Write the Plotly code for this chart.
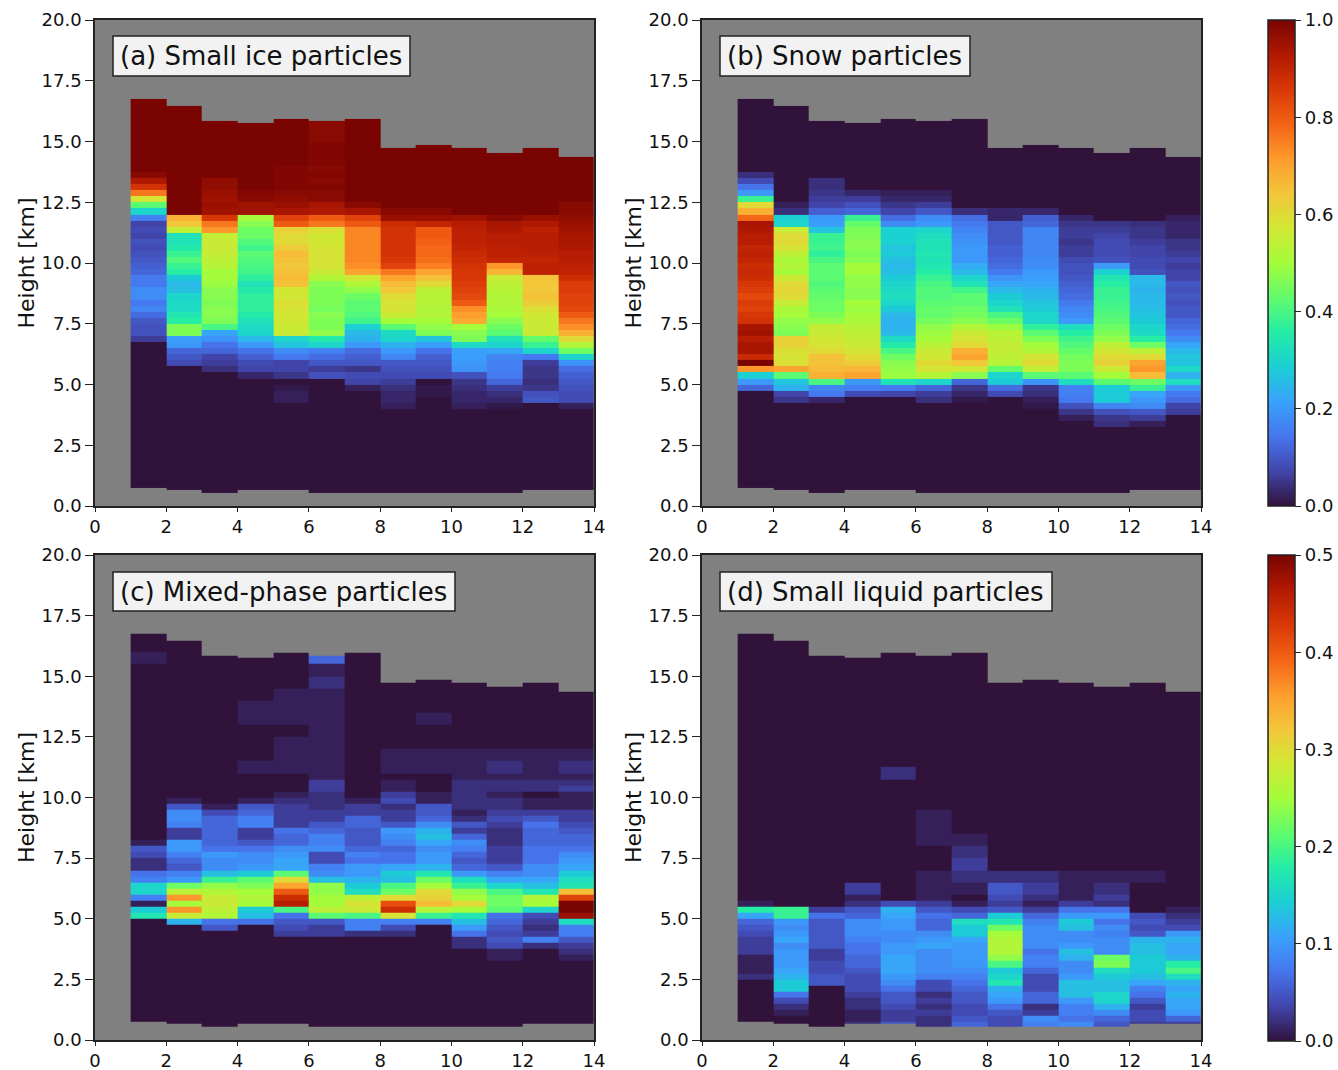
import bisect
import plotly.graph_objects as go

TIME_EDGES = [1,2,3,4,5,6,7,8,9,10,11,12,13,14]
COLUMN_TOPS = [16.75,16.45,15.85,15.75,15.95,15.85,15.95,14.75,14.85,14.75,14.55,14.75,14.35]
COLUMN_BOTTOMS = [0.76,0.66,0.55,0.66,0.66,0.55,0.55,0.55,0.55,0.55,0.55,0.66,0.66]

# Row edges (km) for each panel
LEVELS_A = [0.5]+[4+0.25*i for i in range(41)]+[15,17]
LEVELS_B = [0.5]+[3.25+0.25*i for i in range(44)]+[17]
LEVELS_C = [0.5]+[3.25+0.25*i for i in range(32)]+[11.5,12,12.5,13,13.5,14,14.5,15,15.5,16,17]
LEVELS_D = [0.5+0.25*i for i in range(23)]+[6.5,7,7.5,8,8.5,9.5,10.75,11.25,17]

# Values in hundredths; each list runs from the lowest row upward
A01=[0]+[0]*11+[6,9,9,10,13,17,15,18,18,15,15,12,11,10,9,8,9,7,8,7,16,30,42,58,76,87,93,98,100]+[100,100]
A02=[0]+[0]*7+[8,10,12,20,21,46,46,36,34,31,31,30,26,25,28,36,38,41,38,35,33,33,55,64,68]+[100]*8+[100,100]
A03=[0]+[0]*6+[4,6,7,12,14,19,22,40,46,47,47,46,47,47,49,50,50,53,54,55,56,56,55,72,76,86,95,96,95,96,97,97,100,100]+[100,100]
A04=[0]+[0]*5+[3,7,8,11,14,20,25,30,31,33,35,37,37,37,35,33,37,39,40,41,42,39,41,44,44,47,50,95,95,98,99,100,100,100,100]+[100,100]
A05=[0]+[0,2,2,1,0,5,7,7,15,18,27,30,56,56,57,57,58,59,57,57,65,66,65,64,65,66,63,60,60,62,80,84,94,96,97,98,99,99,99,99]+[100,100]
A06=[0]+[0]*5+[9,6,10,13,16,30,35,48,46,46,47,45,46,46,46,47,52,56,58,58,58,58,57,57,59,76,80,93,94,98,98,99,98,99,98]+[99,98]
A07=[0]+[0]*3+[2,7,8,5,10,11,13,20,24,25,29,39,41,42,42,44,48,52,57,70,73,74,74,74,74,74,74,80,84,94,98]+[100]*6+[100,100]
A08=[0]+[2,3,3,4,6,8,9,10,17,20,24,30,31,42,50,56,58,58,60,64,66,70,76,84,86,87,87,87,87,87,88,96,98]+[100]*7+[100,100]
A09=[0]+[0,0,1,1,0,8,9,10,11,14,21,27,46,48,50,52,52,53,53,54,60,65,70,75,77,78,78,79,80,80,90,96,98]+[100]*7+[100,100]
A10=[0]+[2,3,3,4,5,9,19,20,21,21,31,46,47,50,69,71,73,80,83,84,85,86,86,87,88,89,90,91,91,91,92,95]+[100]*8+[100,100]
A11=[0]+[1,3,4,6,12,15,16,16,17,22,30,33,42,44,47,50,51,52,52,53,54,56,67,72,90,91,91,92,92,93,94,98]+[100]*8+[100,100]
A12=[0]+[0,10,9,5,4,5,5,6,15,30,38,43,56,56,56,57,59,63,65,64,64,65,91,91,90,91,92,92,92,91,93,96]+[100]*8+[100,100]
A13=[0]+[2,8,8,9,10,11,13,19,30,44,52,60,68,73,76,80,83,84,84,85,85,88,90,91,92,92,93,94,94,95,96,97,98,98,100,100,100,100,100,100]+[100,100]

B01=[0]+[0]*6+[12,20,29,72,100,89,94,94,92,95,94,87,86,84,85,83,85,86,88,89,88,90,91,90,92,92,93,94,78,68,60,38,20,14,8,4,0]+[0]
B02=[0]+[0]*4+[5,7,24,27,42,70,59,58,59,62,62,46,47,48,50,51,55,60,61,60,56,50,52,51,54,58,60,60,56,30,29,4,2]+[0]*6+[0]
B03=[0]+[0]*4+[3,15,17,40,68,66,65,65,60,58,57,56,55,48,46,44,44,43,42,41,42,42,42,40,37,39,38,38,27,21,20,11,7,6,5,4,4,0,0]+[0]
B04=[0]+[0]*5+[8,16,20,70,67,63,60,58,56,55,54,53,51,50,49,50,47,47,48,48,50,50,47,46,47,47,46,46,43,38,12,9,6,3]+[0]*4+[0]
B05=[0]+[0]*5+[7,15,33,49,48,47,44,40,35,31,25,24,24,25,28,30,32,31,30,28,26,25,26,28,27,29,29,29,18,13,7,5,3,2]+[0]*4+[0]
B06=[0]+[0]*4+[4,6,12,30,52,58,60,57,56,53,50,49,48,45,43,43,42,41,41,40,38,36,34,33,34,33,33,32,30,20,18,10,6,3,2]+[0]*4+[0]
B07=[0]+[0]*4+[1,3,5,12,47,57,64,70,68,60,58,56,52,47,45,44,42,42,39,33,30,25,23,20,20,20,19,18,17,15,13,4]+[0]*7+[0]
B08=[0]+[0]*5+[8,13,28,30,43,53,54,55,55,54,53,49,44,40,33,30,28,25,22,19,15,13,12,11,11,10,10,10,10,3,3]+[0]*7+[0]
B09=[0]+[0,0,0,1,2,4,5,19,42,55,60,58,52,50,46,42,37,30,30,28,27,25,24,22,21,20,18,18,17,17,17,17,17,12,11,3]+[0]*7+[0]
B10=[0]+[0,2,5,9,15,16,16,32,42,46,46,45,43,41,39,36,32,20,18,17,15,13,12,11,10,9,9,8,6,6,5,6,6,5,3]+[0]*8+[0]
B11=[0]+[4,5,9,17,28,28,28,42,50,56,62,60,57,54,48,46,44,42,41,40,39,38,38,36,34,29,20,9,8,8,8,7,6,5]+[0]*9+[0]
B12=[0]+[2,6,10,18,20,22,38,44,66,72,70,60,54,44,36,31,30,28,27,26,25,25,24,25,25,9,8,8,7,7,6,5,5,4]+[0]*9+[0]
B13=[0]+[0,0,6,7,13,15,20,32,24,31,27,27,25,22,18,15,13,12,10,10,9,10,9,10,7,7,6,7,6,5,5,3,3,3,2]+[0]*8+[0]

C01=[0]+[0]*7+[17,14,1,8,15,15,8,7,2,2,4,5,1]+[0]*11+[0,0,0,0,0,0,0,0,0,1,0]
C02=[0]+[0]*6+[12,28,36,25,36,27,22,10,8,5,6,8,10,10,3,3,8,9,9,5,1]+[0]*4+[0]*11
C03=[0]+[0]*5+[5,7,26,27,28,28,26,24,19,13,9,9,10,7,6,6,6,6,6,4,1]+[0]*5+[0]*11
C04=[0]+[0]*6+[7,13,14,25,26,25,23,21,14,10,9,9,7,5,3,3,8,8,6,5,1]+[0]*4+[1,0,0,0,1,1,0,0,0,0,0]
C05=[0]+[0]*4+[3,4,5,7,20,46,44,40,35,30,21,11,11,10,9,6,6,7,3,3,3,3,2,1]+[0]*3+[1,1,1,0,1,1,1,0,0,0,0]
C06=[0]+[0]*4+[3,3,5,21,27,25,25,24,24,13,9,8,4,4,9,8,8,6,5,3,3,2,2,2,3,3,1]+[1,1,1,1,1,1,1,2,1,6,0]
C07=[0]+[0]*4+[2,8,8,20,28,29,27,16,14,12,10,10,7,8,6,5,5,5,6,6,3,3,1]+[0]*4+[0]*11
C08=[0]+[0]*4+[2,4,8,29,44,41,30,22,20,13,14,11,7,7,6,8,9,10,5,3,3,2,4,3,1,1,0]+[1,1,0,0,0,0,0,0,0,0,0]
C09=[0]+[0]*6+[8,19,26,33,31,30,25,22,17,12,10,10,9,11,13,12,9,6,5,5,1,1,0,0,0]+[1,1,0,0,1,0,0,0,0,0,0]
C10=[0]+[0,0,2,2,7,10,13,17,25,30,25,24,19,16,10,6,5,6,8,9,6,3,5,2,1,2,2,2,2,2,1]+[1,1,0,0,0,0,0,0,0,0,0]
C11=[0]+[1,1,4,5,4,5,6,7,21,22,22,20,15,11,8,5,3,3,3,2,2,2,3,4,3,2,2,1,2,2,1]+[2,1,0,0,0,0,0,0,0,0,0]
C12=[0]+[0,0,2,8,3,2,3,4,15,25,26,17,13,11,9,9,7,7,7,6,6,6,7,5,3,1,1,0,2,2,1]+[1,1,0,0,0,0,0,0,0,0,0]
C13=[0]+[1,2,3,5,8,8,16,48,50,50,42,33,17,16,14,11,10,9,7,6,6,5,4,3,3,1,1,1,3,2,1]+[2,1,0,0,0,0,0,0,0,0,0]

D01=[0]*8+[2,1,1,1,3,3,3,4,5,6,11,18,1,0]+[0]*9
D02=[0,0,1,2,4,7,14,14,12,11,10,10,10,9,11,10,9,10,19,19,0,0]+[0]*9
D03=[0]*7+[5,5,4,4,3,3,5,5,5,5,5,7,3,0,0]+[0]*9
D04=[2,1,1,2,2,3,4,4,4,5,6,6,7,7,8,9,9,9,6,5,2,1]+[3,0,0,0,0,0,0,0,0]
D05=[5,3,3,4,5,5,7,9,10,11,11,11,10,10,9,9,10,10,11,12,4,0]+[0,0,0,0,0,0,0,2,0]
D06=[2,2,3,2,3,2,4,4,8,9,9,9,9,11,10,9,6,6,7,5,3,1]+[1,1,0,0,1,1,0,0,0]
D07=[6,5,4,4,5,5,6,7,8,9,10,10,10,10,11,14,14,16,6,4,1,0]+[1,2,3,2,1,0,0,0,0]
D08=[4,4,5,7,10,11,12,17,15,14,20,24,26,26,26,25,22,17,14,5,3,4]+[5,2,0,0,0,0,0,0,0]
D09=[8,9,3,2,6,6,4,4,4,6,8,8,7,9,9,9,9,8,6,3,1,2]+[3,2,0,0,0,0,0,0,0]
D10=[9,7,8,8,10,13,13,13,10,9,9,12,13,10,9,9,13,14,10,7,3,1]+[1,1,0,0,0,0,0,0,0]
D11=[5,6,9,12,15,15,13,13,14,16,23,22,9,9,9,8,9,7,10,7,2,3]+[2,1,0,0,0,0,0,0,0]
D12=[3,4,4,3,5,7,8,11,13,14,14,14,13,13,12,5,4,5,4,0,0,0]+[0,1,0,0,0,0,0,0,0]
D13=[3,6,10,11,11,12,11,12,16,20,18,12,11,11,12,10,4,3,2,1,0,0]+[0]*9

PANEL_TITLES = ["(a) Small ice particles","(b) Snow particles","(c) Mixed-phase particles","(d) Small liquid particles"]
PANELS = [
    (LEVELS_A,[A01,A02,A03,A04,A05,A06,A07,A08,A09,A10,A11,A12,A13],"coloraxis"),
    (LEVELS_B,[B01,B02,B03,B04,B05,B06,B07,B08,B09,B10,B11,B12,B13],"coloraxis"),
    (LEVELS_C,[C01,C02,C03,C04,C05,C06,C07,C08,C09,C10,C11,C12,C13],"coloraxis2"),
    (LEVELS_D,[D01,D02,D03,D04,D05,D06,D07,D08,D09,D10,D11,D12,D13],"coloraxis2"),
]
X_TICKS = [0,2,4,6,8,10,12,14]
Y_TICKS = [0,2.5,5,7.5,10,12.5,15,17.5,20]
CB1_TICKS = [0,0.2,0.4,0.6,0.8,1.0]
CB2_TICKS = [0,0.1,0.2,0.3,0.4,0.5]

W,H = 1338,1070
FONT = "DejaVu Sans"
TICK = 18
FRAMES = [(95,594,20,506),(702,1201,20,506),(95,594,555,1040),(702,1201,555,1040)]
BOXES = [(113,410,36,76),(720,970,36,76),(113,455,572,611),(720,1052,572,611)]

def build(levels, cols):
    edges = sorted(set([round(v,3) for v in levels]+COLUMN_TOPS+COLUMN_BOTTOMS))
    z=[]
    for lo,hi in zip(edges[:-1],edges[1:]):
        mid=(lo+hi)/2
        r=bisect.bisect_right(levels,mid)-1
        row=[]
        for c,col in enumerate(cols):
            if mid<COLUMN_BOTTOMS[c] or mid>COLUMN_TOPS[c]:
                row.append(None)
            else:
                row.append(col[min(r,len(col)-1)]/100)
        z.append(row)
    return edges,z

fig=go.Figure()
for i,((levels,cols,ca),fr,box) in enumerate(zip(PANELS,FRAMES,BOXES)):
    suffix="" if i==0 else str(i+1)
    edges,z=build(levels,cols)
    fig.add_trace(go.Heatmap(x=TIME_EDGES,y=edges,z=z,coloraxis=ca,hoverinfo="skip",
                             xaxis="x"+suffix,yaxis="y"+suffix))
    l,r,t,b=fr
    common=dict(showline=True,mirror=True,linecolor="#222",linewidth=1.5,ticks="outside",
                tickwidth=1.3,tickcolor="#222",showgrid=False,zeroline=False,
                tickfont=dict(family=FONT,size=TICK,color="#111"))
    fig.update_layout(**{
        "xaxis"+suffix:dict(domain=[l/W,r/W],range=[0,14],tickvals=X_TICKS,anchor="y"+suffix,ticklen=4,**common),
        "yaxis"+suffix:dict(domain=[1-b/H,1-t/H],range=[0,20],tickvals=Y_TICKS,tickformat=".1f",anchor="x"+suffix,ticklen=8,
                            title=dict(text="Height [km]",font=dict(family=FONT,size=22,color="#111"),standoff=1),**common),
    })
    bl,br,bt,bb=box
    fig.add_shape(type="rect",xref="paper",yref="paper",x0=bl/W,x1=br/W,y0=1-bb/H,y1=1-bt/H,
                  fillcolor="#f2f2f2",line=dict(color="#222",width=1.5),layer="above")
    fig.add_annotation(xref="paper",yref="paper",x=(bl+5)/W,y=1-((bt+bb)/2)/H,xanchor="left",yanchor="middle",
                       align="left",showarrow=False,text=PANEL_TITLES[i],
                       font=dict(family=FONT,size=26,color="#111"))

def cbar(ticks,y0):
    return dict(x=1268/W,xanchor="left",xpad=0,ypad=0,thickness=27,thicknessmode="pixels",
                len=486,lenmode="pixels",y=1-y0/H,yanchor="top",tickvals=ticks,tickformat=".1f",
                ticks="outside",ticklen=6,tickwidth=1.3,tickcolor="#222",outlinecolor="#222",outlinewidth=1.5,
                tickfont=dict(family=FONT,size=TICK,color="#111"))

fig.update_layout(width=W,height=H,margin=dict(l=0,r=0,t=0,b=0,autoexpand=False),paper_bgcolor="white",plot_bgcolor="#808080",
    showlegend=False,
    coloraxis=dict(colorscale="Turbo",cmin=0,cmax=1,colorbar=cbar(CB1_TICKS,20)),
    coloraxis2=dict(colorscale="Turbo",cmin=0,cmax=0.5,colorbar=cbar(CB2_TICKS,555)))
fig.write_html("out.html",post_script="document.body.style.margin='0';",config={"displayModeBar":False})
